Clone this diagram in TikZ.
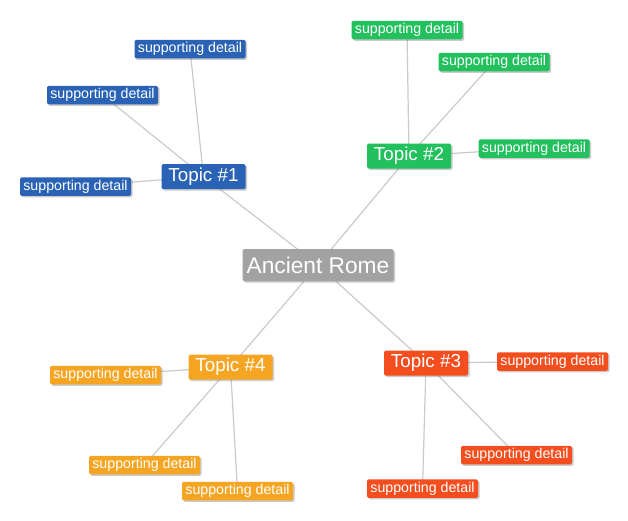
\documentclass[tikz,border=0pt]{standalone}
\usepackage{fontspec}
\setmainfont{Liberation Sans}
\usetikzlibrary{shadows,backgrounds}
\definecolor{cblue}{HTML}{2A63B6}
\definecolor{cgreen}{HTML}{22C15E}
\definecolor{cred}{HTML}{F44E1F}
\definecolor{corange}{HTML}{F6A523}
\definecolor{cgray}{HTML}{A2A2A2}
\definecolor{cline}{HTML}{CACACA}
\tikzset{
  box/.style={rounded corners=1.5pt, text=white, inner sep=0pt, align=center,
    drop shadow={shadow xshift=1.5pt, shadow yshift=-1.5pt, opacity=0.35, fill=black!60}},
  root/.style={box, fill=cgray, minimum width=151pt, minimum height=32pt, font=\fontsize{22.7}{24}\selectfont},
  topic/.style={box, minimum width=84pt, minimum height=25pt, font=\fontsize{18.8}{20}\selectfont},
  detail/.style={box, minimum width=111pt, minimum height=18.5pt, font=\fontsize{14.2}{15}\selectfont},
  link/.style={draw=cline, line width=1.2pt},
}
\begin{document}
\begin{tikzpicture}[x=1pt,y=-1pt]
\useasboundingbox (0,0) rectangle (628,520);
\node[root] (root) at (318,265) {Ancient Rome};
\node[topic, fill=cblue] (t1) at (203.5,176.5) {Topic \#1};
\node[topic, fill=cgreen] (t2) at (409,156) {Topic \#2};
\node[topic, fill=cred] (t3) at (426,363) {Topic \#3};
\node[topic, fill=corange] (t4) at (230.5,367) {Topic \#4};
\node[detail, fill=cblue] (b1) at (190,49) {supporting detail};
\node[detail, fill=cblue] (b2) at (102.5,95) {supporting detail};
\node[detail, fill=cblue] (b3) at (75.5,186.5) {supporting detail};
\node[detail, fill=cgreen] (g1) at (407,30) {supporting detail};
\node[detail, fill=cgreen] (g2) at (494,62) {supporting detail};
\node[detail, fill=cgreen] (g3) at (534,148.5) {supporting detail};
\node[detail, fill=cred] (r1) at (552.5,361.5) {supporting detail};
\node[detail, fill=cred] (r2) at (516.5,455) {supporting detail};
\node[detail, fill=cred] (r3) at (422.5,488.5) {supporting detail};
\node[detail, fill=corange] (o1) at (105.5,375) {supporting detail};
\node[detail, fill=corange] (o2) at (144.5,465) {supporting detail};
\node[detail, fill=corange] (o3) at (237.5,491) {supporting detail};
\begin{scope}[on background layer]
\draw[link] (root.center) -- (t1.center);
\draw[link] (root.center) -- (t2.center);
\draw[link] (root.center) -- (t3.center);
\draw[link] (root.center) -- (t4.center);
\draw[link] (t1.center) -- (b1.center);
\draw[link] (t1.center) -- (b2.center);
\draw[link] (t1.center) -- (b3.center);
\draw[link] (t2.center) -- (g1.center);
\draw[link] (t2.center) -- (g2.center);
\draw[link] (t2.center) -- (g3.center);
\draw[link] (t3.center) -- (r1.center);
\draw[link] (t3.center) -- (r2.center);
\draw[link] (t3.center) -- (r3.center);
\draw[link] (t4.center) -- (o1.center);
\draw[link] (t4.center) -- (o2.center);
\draw[link] (t4.center) -- (o3.center);
\end{scope}
\end{tikzpicture}
\end{document}
